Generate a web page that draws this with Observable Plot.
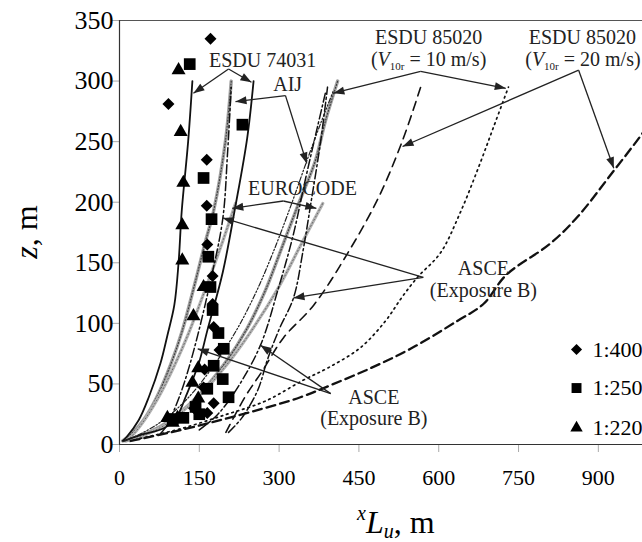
<!DOCTYPE html>
<html><head><meta charset="utf-8">
<script src="https://cdn.jsdelivr.net/npm/d3@7"></script>
<script src="https://cdn.jsdelivr.net/npm/@observablehq/plot@0.6"></script>
<style>
body{margin:0;background:#fff;}
svg text, svg tspan { font-family: "Liberation Serif", "Times New Roman", serif !important; }
g[aria-label="ytick"] text { letter-spacing: 3.5px; }
</style>
</head><body><div id="chart"></div>
<script>
// ---------- data (x = xLu in m, z in m) ----------
const xTicks = [0,150,300,450,600,750,900];
const yTicks = [0,50,100,150,200,250,300,350];

const esdu74031A = [[6,3],[13,6],[36,20],[55,39],[77,67],[90,90],[103,115],[111,150],[117,193],[129,250],[137,300]];
const esdu74031B = [[8,3],[40,8],[86,14],[110,25],[124,39],[149,67],[165,94],[194,142],[218,197],[240,253],[252,300]];
const aijA = [[6,3],[25,10],[45,20],[70,39],[97,67],[118,94],[140,130],[160,165],[177,193],[199,250],[210,300]];
const aijB = [[12,3],[55,10],[95,20],[145,39],[198,67],[240,96],[274,127],[303,160],[335,197],[368,234],[387,267],[410,300]];
const euroA = [[8,3],[18,5],[40,16],[72,38],[103,65],[130,92],[162,129],[191,164],[218,199]];
const euroB = [[20,3],[85,16],[145,38],[200,65],[245,92],[298,129],[340,164],[382,199]];
const asceA = [[75,8],[88,15],[105,31],[121,50],[141,80],[170,133],[194,186],[203,240],[210,295]];
const asceB = [[205,10],[230,22],[260,45],[278,70],[300,95],[327,121],[345,160],[360,200],[378,250],[391,295]];
const asceC = [[150,12],[185,25],[222,47],[265,82],[298,128],[326,172],[350,220],[372,262],[388,292]];
const esdu85020V10a = [[10,3],[45,10],[82,20],[130,39],[180,67],[222,96],[258,127],[290,160],[322,197],[352,234],[378,265],[402,292]];
const esdu85020V10b = [[39,5],[115,13],[195,24],[275,36],[345,53],[395,64],[453,80],[500,102],[530,121],[560,138],[603,158],[640,191],[675,229],[703,262],[731,295]];
const esdu85020V20a = [[200,10],[237,40],[269,61],[308,88],[365,115],[429,158],[487,204],[532,251],[566,295]];
const esdu85020V20b = [[21,3],[96,10],[171,18],[256,28],[340,39],[397,49],[472,63],[547,79],[635,102],[684,116],[727,140],[810,166],[861,188],[929,226],[983,257],[1010,275]];

const scale1_400 = [[171,335],[92,281],[164,235],[164,197],[165,165],[175,139],[175,116],[177,97],[188,78],[160,62],[158,47],[177,34],[165,26],[140,30],[110,22]];
const scale1_250 = [[132,314],[231,264],[158,220],[173,186],[167,155],[171,130],[175,111],[186,92],[196,79],[177,65],[194,54],[165,46],[205,39],[143,31],[150,25],[120,22],[100,21]];
const scale1_220 = [[111,309],[115,258],[120,216],[118,181],[118,152],[158,130],[139,106],[148,63],[137,51],[148,38],[109,22],[90,22],[100,18]];

const legendLabels = ["1:400","1:250","1:220"];

const annoText = ["ESDU 74031","AIJ","EUROCODE","ESDU 85020","(V10r = 10 m/s)","ESDU 85020","(V10r = 20 m/s)","ASCE","(Exposure B)","ASCE","(Exposure B)"];
const annoX = [269,316,344,581,581,870,871,684,684,478,478];
const annoZ = [317,297,211,336,318,336,318,145,127,39,21];

const arrowFrom = [[205,310],[205,310],[312,288],[312,288],[308,201],[308,201],[566,308],[566,308],[863,309],[863,309],[571,138],[571,138],[397,42],[397,42]];
const arrowTo   = [[139,290],[248,299],[218,283],[352,232],[212,195],[370,195],[402,290],[726,294],[532,246],[929,228],[194,187],[327,121],[265,82],[147,79]];

// ---------- layout ----------
const W = 642, H = 542, ML = 119, MT = 20, MB = 98, MR = 0;
const XMAX = 983, YMAX = 350;
const FONT = "Liberation Serif, Times New Roman, serif";
const sx = Plot.scale({x: {domain: [0, XMAX], range: [ML, W - MR]}});
const sy = Plot.scale({y: {domain: [0, YMAX], range: [H - MB, MT]}});
const tickLenX = 8 / ((H - MB - MT) / YMAX);   // 8 px expressed in z units
const tickLenY = 7 / ((W - MR - ML) / XMAX);   // 7 px expressed in x units

const curves = [
  {name: "esdu74031A", style: "solid", pts: esdu74031A},
  {name: "esdu74031B", style: "solid", pts: esdu74031B},
  {name: "aijA", style: "gray", pts: aijA},
  {name: "aijB", style: "gray", pts: aijB},
  {name: "euroA", style: "gray2", pts: euroA},
  {name: "euroB", style: "gray2", pts: euroB},
  {name: "asceA", style: "dashdot", pts: asceA},
  {name: "asceB", style: "dashdot", pts: asceB},
  {name: "asceC", style: "dashdot", pts: asceC},
  {name: "v10a", style: "fine", pts: esdu85020V10a},
  {name: "v10b", style: "dotted", pts: esdu85020V10b},
  {name: "v20a", style: "longdash", pts: esdu85020V20a},
  {name: "v20b", style: "thickdash", pts: esdu85020V20b}
];
const rows = curves.flatMap(c => c.pts.map(([x, z]) => ({name: c.name, style: c.style, x, z})));
const sel = s => rows.filter(r => r.style === s);
const lineOpts = {x: "x", y: "z", z: "name", curve: "catmull-rom", clip: true};

const toRows = a => a.map(([x, z]) => ({x, z}));
const arrows = arrowFrom.map((f, i) => {
  const t = arrowTo[i];
  const dx = sx.apply(t[0]) - sx.apply(f[0]);
  const dy = sy.apply(t[1]) - sy.apply(f[1]);
  return {x1: f[0], y1: f[1], x2: t[0], y2: t[1], angle: Math.atan2(dx, -dy) * 180 / Math.PI};
});
const headSym = {draw(ctx) { ctx.moveTo(0, 0); ctx.lineTo(-4, 11); ctx.lineTo(4, 11); ctx.closePath(); }};
const annos = annoText.map((t, i) => ({t, x: annoX[i], z: annoZ[i]}));

const legendX = 859, legendTextX = 889, legendZ = [78.4, 46.6, 13.6];
const legendSymbols = ["diamond2", "square", "triangle"];
const legendR = [5, 5.6, 4.6];

const plot = Plot.plot({
  width: W, height: H, marginLeft: ML, marginRight: MR, marginTop: MT, marginBottom: MB,
  x: {domain: [0, XMAX], axis: null}, y: {domain: [0, YMAX], axis: null},
  style: {fontFamily: FONT, fontSize: "20px", color: "#000", background: "#fff"},
  marks: [
    Plot.ruleY([YMAX], {stroke: "#555", strokeWidth: 1}),
    Plot.line(sel("gray"), {...lineOpts, stroke: "#a0a0a0", strokeWidth: 3.4}),
    Plot.line(sel("gray"), {...lineOpts, stroke: "#3a3a3a", strokeWidth: 1.1, strokeDasharray: "1,2"}),
    Plot.line(sel("gray2"), {...lineOpts, stroke: "#b4b4b4", strokeWidth: 3.2}),
    Plot.line(sel("gray2"), {...lineOpts, stroke: "#666", strokeWidth: 1, strokeDasharray: "1,2.5"}),
    Plot.line(sel("solid"), {...lineOpts, stroke: "#111", strokeWidth: 1.8}),
    Plot.line(sel("dashdot"), {...lineOpts, stroke: "#111", strokeWidth: 1.5, strokeDasharray: "9,3,2,3"}),
    Plot.line(sel("fine"), {...lineOpts, stroke: "#222", strokeWidth: 1.2, strokeDasharray: "5,2,1.5,2,1.5,2"}),
    Plot.line(sel("dotted"), {...lineOpts, stroke: "#111", strokeWidth: 1.7, strokeDasharray: "1.6,4"}),
    Plot.line(sel("longdash"), {...lineOpts, stroke: "#111", strokeWidth: 1.6, strokeDasharray: "9,6"}),
    Plot.line(sel("thickdash"), {...lineOpts, stroke: "#111", strokeWidth: 2.3, strokeDasharray: "9,5"}),
    Plot.dot(toRows(scale1_400), {x: "x", y: "z", symbol: "diamond2", r: 5.4, fill: "#000"}),
    Plot.dot(toRows(scale1_250), {x: "x", y: "z", symbol: "square", r: 6.6, fill: "#000"}),
    Plot.dot(toRows(scale1_220), {x: "x", y: "z", symbol: "triangle", r: 5.2, fill: "#000"}),
    Plot.link(arrows, {x1: "x1", y1: "y1", x2: "x2", y2: "y2", stroke: "#222", strokeWidth: 1.3}),
    Plot.dot(arrows, {x: "x2", y: "y2", symbol: headSym, r: 5, fill: "#222", stroke: "none", rotate: "angle"}),
    Plot.text(annos, {x: "x", y: "z", text: "t", fontSize: 20, fill: "#222", textAnchor: "middle"}),
    ...legendLabels.map((lab, i) => Plot.dot([lab], {x: () => legendX, y: () => legendZ[i], symbol: legendSymbols[i], r: legendR[i], fill: "#000"})),
    Plot.text(legendLabels, {x: () => legendTextX, y: (d, i) => legendZ[i], text: d => d, fontSize: 22, textAnchor: "start", fill: "#000"}),
    // ticks (outside the frame)
    Plot.ruleX(xTicks, {x: d => d, y1: -tickLenX, y2: 0, stroke: "#aaa"}),
    Plot.ruleY(yTicks, {y: d => d, x1: -tickLenY, x2: 0, stroke: "#aaa"}),
    Plot.ruleX([0], {y1: 0, y2: YMAX, stroke: "#333", strokeWidth: 1.2}),
    Plot.ruleY([0], {stroke: "#333", strokeWidth: 1.2}),
    // tick labels
    Plot.text(xTicks, {x: d => d, frameAnchor: "bottom", dy: 40, fontSize: 22, textAnchor: "middle", fill: "#000"}),
    Plot.text(yTicks, {y: d => d, frameAnchor: "left", dx: -6, fontSize: 26, textAnchor: "end", fill: "#000", ariaLabel: "ytick"})
  ]
});
document.getElementById("chart").appendChild(plot);

const svg = d3.select(plot);
// subscripts in V10r labels
svg.selectAll("text").each(function () {
  const t = this.textContent;
  const m = t.match(/^\(V10r = (.*)\)$/);
  if (!m) return;
  const s = d3.select(this);
  s.text(null);
  s.append("tspan").text("(");
  s.append("tspan").attr("font-style", "italic").text("V");
  s.append("tspan").attr("font-size", 11).attr("dy", 4).text("10r");
  s.append("tspan").attr("dy", -4).text(" = " + m[1] + ")");
});
// axis titles
const xt = svg.append("text").attr("x", 357).attr("y", 533).attr("text-anchor", "start")
  .attr("font-size", 32).attr("fill", "#000");
xt.append("tspan").attr("font-style", "italic").attr("font-size", 20).attr("dy", -13).text("x");
xt.append("tspan").attr("font-style", "italic").attr("dy", 13).text("L");
xt.append("tspan").attr("font-style", "italic").attr("font-size", 20).attr("dy", 5).text("u");
xt.append("tspan").attr("dy", -5).text(", m");
const yt = svg.append("text").attr("transform", "translate(37,232) rotate(-90)").attr("text-anchor", "middle")
  .attr("font-size", 32).attr("fill", "#000");
yt.append("tspan").attr("font-style", "italic").text("z");
yt.append("tspan").text(", m");
</script></body></html>
